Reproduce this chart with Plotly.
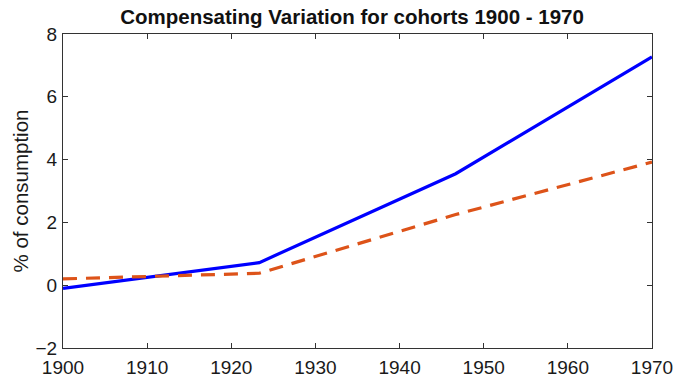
import plotly.graph_objects as go

# Cohort birth years and compensating variation (% of consumption)
cohorts = [1900, 1923.33, 1946.67, 1970]
cv_solid = [-0.1, 0.72, 3.55, 7.27]
cv_dashed = [0.2, 0.38, 2.25, 3.92]

x_ticks = [1900, 1910, 1920, 1930, 1940, 1950, 1960, 1970]
y_ticks = [-2, 0, 2, 4, 6, 8]

FONT = "Liberation Sans, Arial, Helvetica"

fig = go.Figure()
fig.add_trace(go.Scatter(
    x=cohorts, y=cv_solid, mode="lines",
    line=dict(color="#0000FF", width=3.2),
))
fig.add_trace(go.Scatter(
    x=cohorts, y=cv_dashed, mode="lines",
    line=dict(color="#DD5319", width=3.2, dash="14px,9px"),
))

axis_common = dict(
    showgrid=False, zeroline=False, showline=True, mirror="ticks",
    linecolor="#333333", linewidth=1.3, ticks="inside", ticklen=5,
    tickcolor="#333333", tickwidth=1.3, automargin=False,
    tickfont=dict(family=FONT, size=19, color="#1a1a1a"),
)

fig.update_layout(
    width=677, height=380,
    margin=dict(l=63, r=25, t=34, b=32),
    paper_bgcolor="white", plot_bgcolor="white",
    showlegend=False,
    title=dict(
        text="<b>Compensating Variation for cohorts 1900 - 1970</b>",
        x=0.52, xanchor="center", y=0.955, yanchor="middle",
        font=dict(family=FONT, size=20.5, color="#111111"),
    ),
    xaxis=dict(range=[1900, 1970], tickvals=x_ticks, ticklabelstandoff=2, **axis_common),
    yaxis=dict(
        range=[-2, 8], tickvals=y_ticks, ticklabelstandoff=1,
        title=dict(text="% of consumption", standoff=1,
                   font=dict(family=FONT, size=20.5, color="#1a1a1a")),
        **axis_common,
    ),
)

fig.write_html("out.html")
